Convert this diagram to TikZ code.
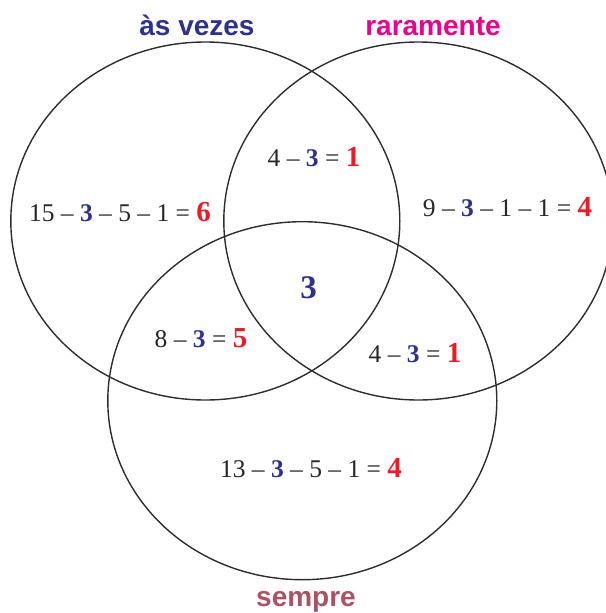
\documentclass[tikz,border=0pt]{standalone}
\usepackage{fontspec}
\setmainfont{Liberation Serif}
\newfontfamily\lsans{Liberation Sans}
\usetikzlibrary{shapes.geometric}
\definecolor{txtgrey}{RGB}{40,38,38}
\definecolor{vblue}{RGB}{46,49,146}
\definecolor{vred}{RGB}{237,28,36}
\definecolor{vmag}{RGB}{236,0,140}
\definecolor{vmauve}{RGB}{172,82,98}
\definecolor{lineg}{RGB}{45,45,45}
\newcommand\bl[1]{{\bfseries\color{vblue}#1}}
\newcommand\rd[1]{{\fontsize{29}{30}\selectfont\bfseries\color{vred}#1}}
\begin{document}
\begin{tikzpicture}[x=1pt,y=-1pt,
  setc/.style={ellipse, draw=lineg, line width=1.4pt, minimum width=389pt, minimum height=358pt, inner sep=0pt},
  eq/.style={anchor=base, inner sep=0pt, text=txtgrey, font=\fontsize{25.5}{28}\selectfont},
  title/.style={anchor=base, inner sep=0pt, font=\lsans\bfseries\fontsize{28}{30}\selectfont}]
\useasboundingbox (0,0) rectangle (605,613);
\node[setc] (L) at (205.3,221) {};
\node[setc] (R) at (418.3,221) {};
\node[setc] (B) at (302.3,400.7) {};
\node[title, text=vblue] (tL) at (197,35.5) {às vezes};
\node[title, text=vmag] (tR) at (433,35.5) {raramente};
\node[title, text=vmauve] (tB) at (306,606.5) {sempre};
\node[eq] (aL) at (120,221.5) {15 – \bl{3} – 5 – 1 = \rd{6}};
\node[eq] (aLR) at (314,166.5) {4 – \bl{3} = \rd{1}};
\node[eq] (aR) at (507.5,216) {9 – \bl{3} – 1 – 1 = \rd{4}};
\node[eq, font=\fontsize{33}{36}\selectfont\bfseries, text=vblue] (aC) at (308.6,298.5) {3};
\node[eq] (aLB) at (201,347) {8 – \bl{3} = \rd{5}};
\node[eq] (aRB) at (415,362.5) {4 – \bl{3} = \rd{1}};
\node[eq] (aB) at (311,477.5) {13 – \bl{3} – 5 – 1 = \rd{4}};
\end{tikzpicture}
\end{document}
